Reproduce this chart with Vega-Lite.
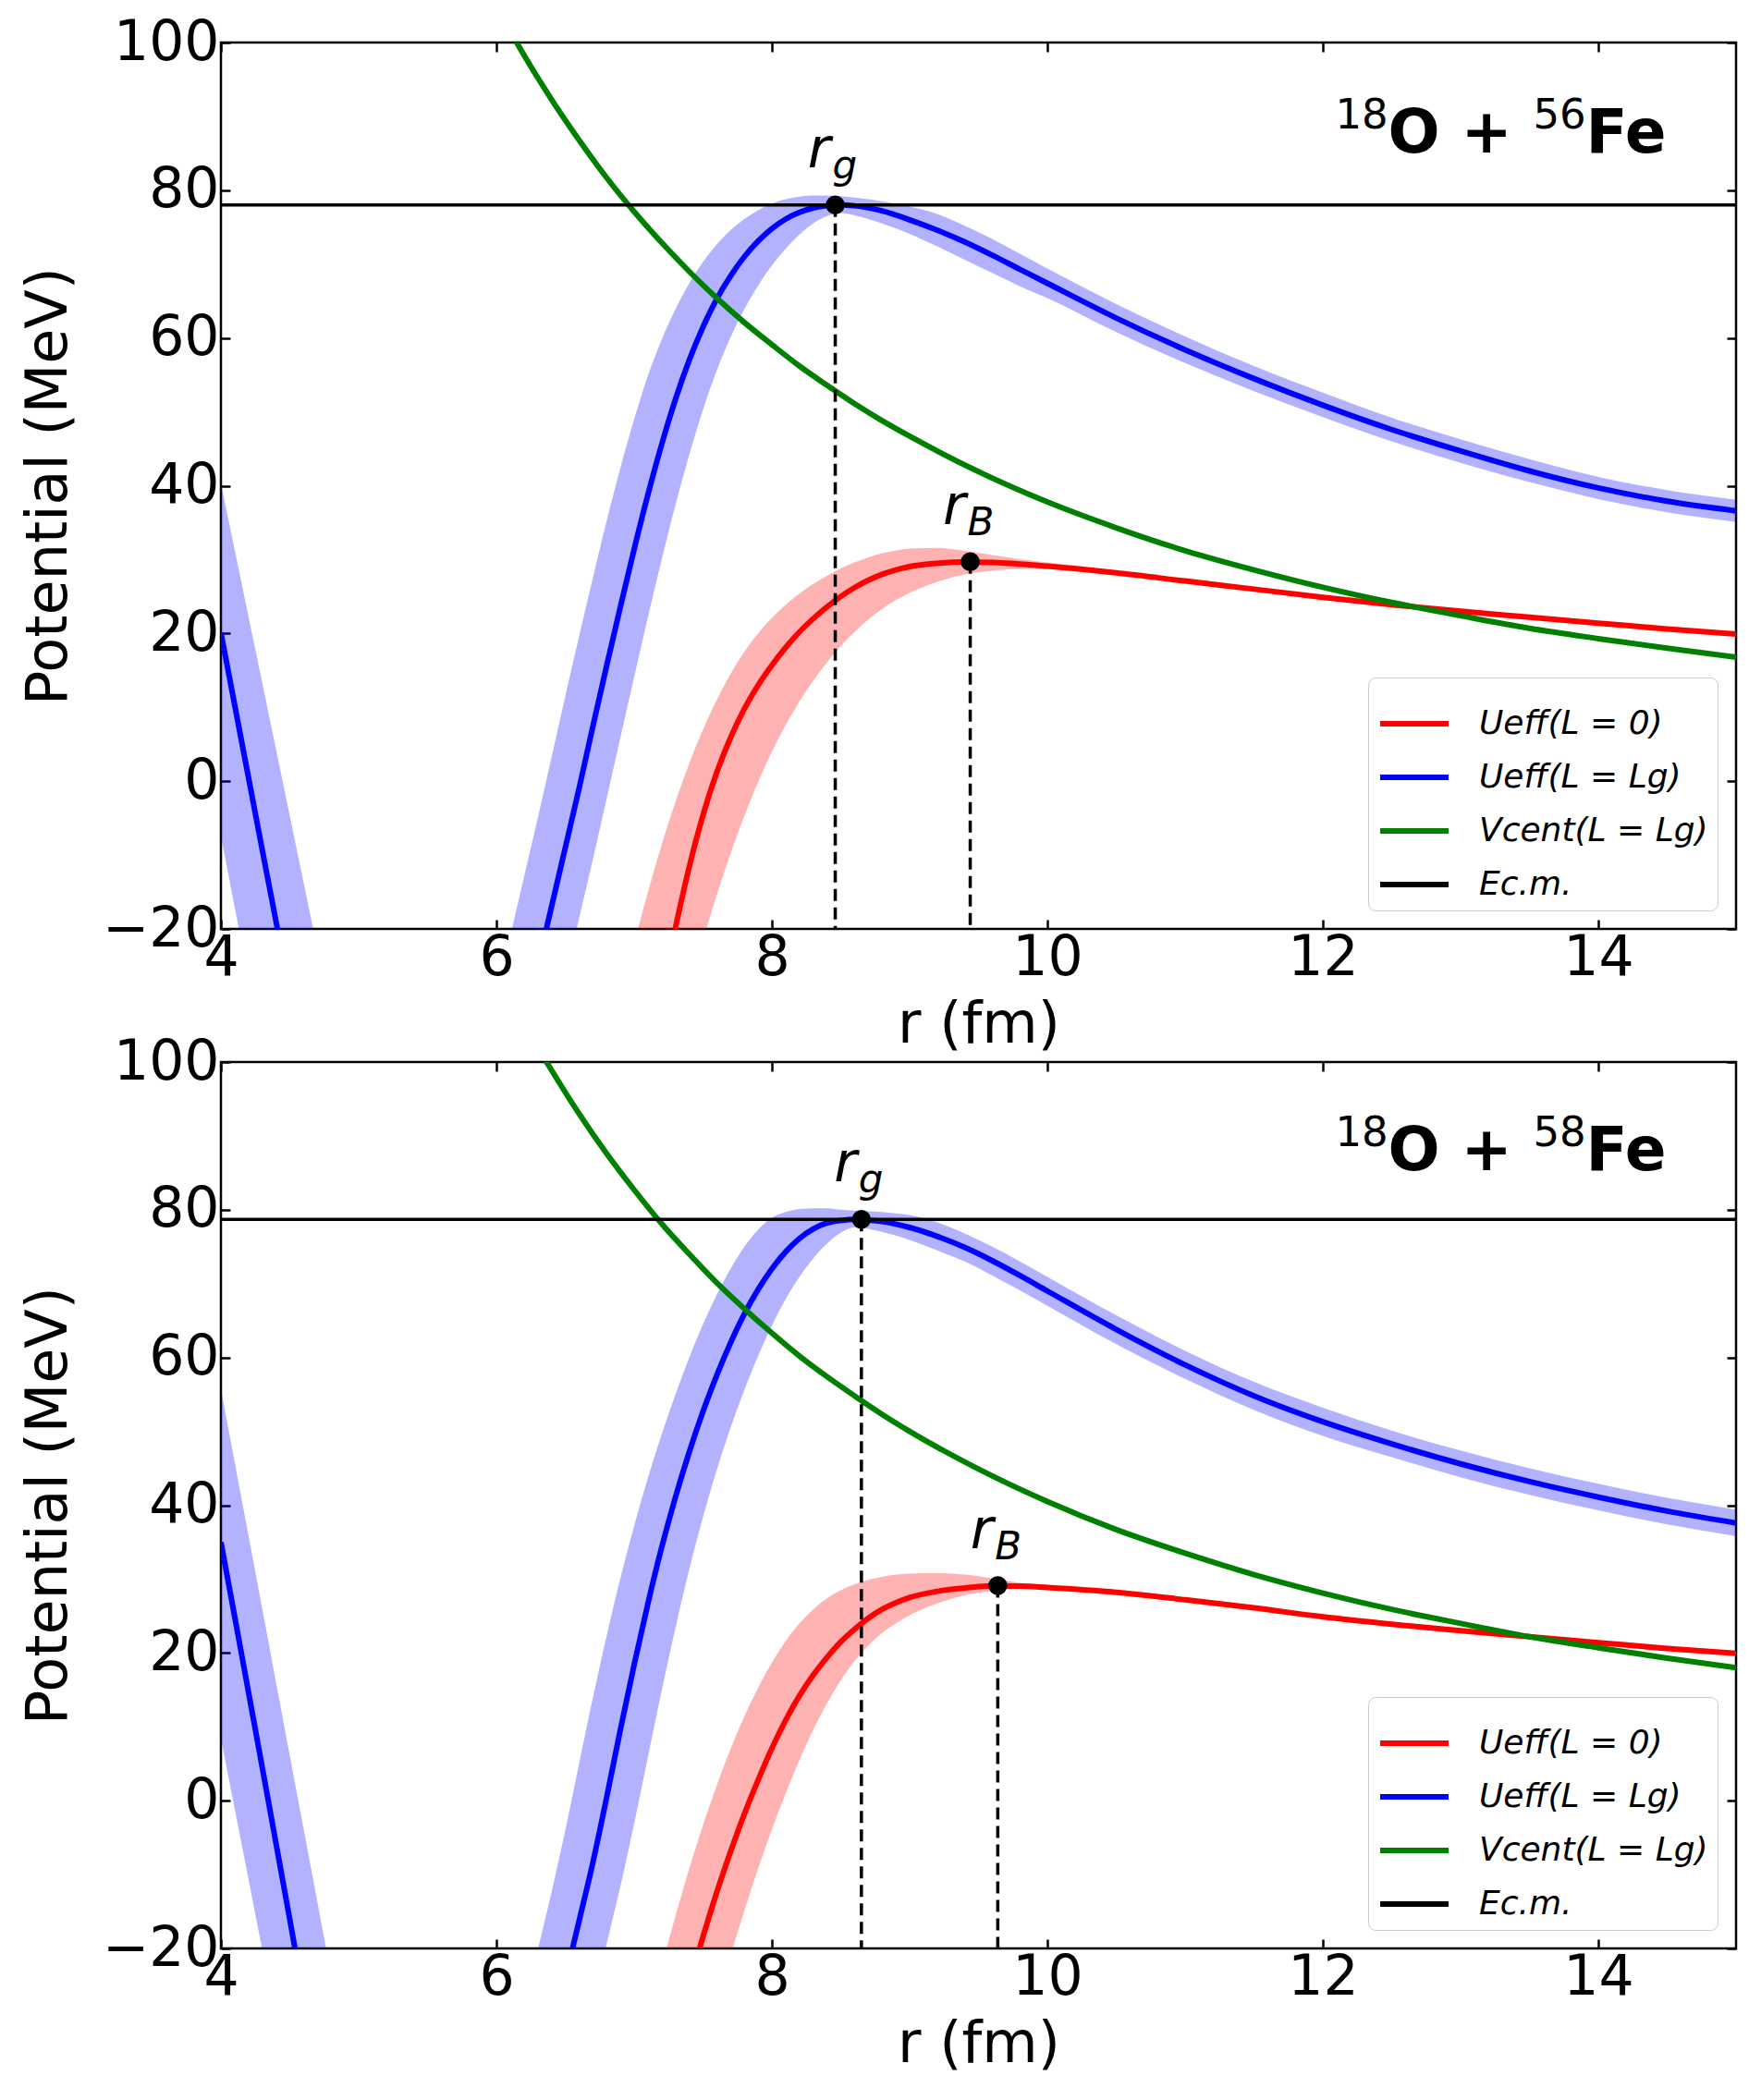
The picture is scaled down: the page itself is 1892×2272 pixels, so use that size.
{
  "$schema": "https://vega.github.io/schema/vega-lite/v6.json",
  "background": "white",
  "padding": {"left": 20, "top": 14, "right": 10, "bottom": 10},
  "datasets": {
    "top": [
      {"s": "U0", "b": 1, "r": 6.9, "v": -56.5, "lo": -64, "hi": -29.5},
      {"s": "U0", "b": 1, "r": 7.0, "v": -46.8, "lo": -56.5, "hi": -22.0},
      {"s": "U0", "b": 1, "r": 7.1, "v": -37.4, "lo": -49, "hi": -15.0},
      {"s": "U0", "b": 1, "r": 7.2, "v": -28.4, "lo": -41.8, "hi": -8.6},
      {"s": "U0", "b": 1, "r": 7.3, "v": -19.8, "lo": -34.8, "hi": -2.8},
      {"s": "U0", "b": 1, "r": 7.4, "v": -11.6, "lo": -28.0, "hi": 2.4},
      {"s": "U0", "b": 1, "r": 7.5, "v": -4.6, "lo": -21.5, "hi": 7.0},
      {"s": "U0", "b": 1, "r": 7.6, "v": 1.2, "lo": -15.4, "hi": 11.0},
      {"s": "U0", "b": 1, "r": 7.7, "v": 5.9, "lo": -9.8, "hi": 14.5},
      {"s": "U0", "b": 1, "r": 7.8, "v": 9.8, "lo": -4.7, "hi": 17.5},
      {"s": "U0", "b": 1, "r": 7.9, "v": 13.0, "lo": -0.1, "hi": 20.0},
      {"s": "U0", "b": 1, "r": 8.0, "v": 15.7, "lo": 4.0, "hi": 22.1},
      {"s": "U0", "b": 1, "r": 8.1, "v": 18.1, "lo": 7.6, "hi": 23.9},
      {"s": "U0", "b": 1, "r": 8.2, "v": 20.2, "lo": 10.8, "hi": 25.4},
      {"s": "U0", "b": 1, "r": 8.3, "v": 22.0, "lo": 13.6, "hi": 26.7},
      {"s": "U0", "b": 1, "r": 8.4, "v": 23.6, "lo": 16.1, "hi": 27.8},
      {"s": "U0", "b": 1, "r": 8.5, "v": 25.0, "lo": 18.3, "hi": 28.8},
      {"s": "U0", "b": 1, "r": 8.6, "v": 26.2, "lo": 20.2, "hi": 29.6},
      {"s": "U0", "b": 1, "r": 8.7, "v": 27.2, "lo": 21.9, "hi": 30.3},
      {"s": "U0", "b": 1, "r": 8.8, "v": 28.0, "lo": 23.3, "hi": 30.85},
      {"s": "U0", "b": 1, "r": 8.9, "v": 28.6, "lo": 24.5, "hi": 31.25},
      {"s": "U0", "b": 1, "r": 9.0, "v": 29.05, "lo": 25.5, "hi": 31.5},
      {"s": "U0", "b": 1, "r": 9.2, "v": 29.5, "lo": 27.0, "hi": 31.6},
      {"s": "U0", "b": 1, "r": 9.4, "v": 29.67, "lo": 28.0, "hi": 31.2},
      {"s": "U0", "b": 1, "r": 9.6, "v": 29.6, "lo": 28.5, "hi": 30.6},
      {"s": "U0", "b": 1, "r": 9.8, "v": 29.4, "lo": 28.75, "hi": 30.05},
      {"s": "U0", "b": 1, "r": 10.0, "v": 29.1, "lo": 28.7, "hi": 29.6},
      {"s": "U0", "b": 1, "r": 10.5, "v": 28.2, "lo": 28.0, "hi": 28.5},
      {"s": "U0", "b": 1, "r": 11.0, "v": 27.1, "lo": 27.0, "hi": 27.3},
      {"s": "U0", "b": 1, "r": 11.5, "v": 26.0, "lo": 25.95, "hi": 26.1},
      {"s": "U0", "b": 1, "r": 12.0, "v": 24.9},
      {"s": "U0", "b": 1, "r": 12.5, "v": 23.9},
      {"s": "U0", "b": 1, "r": 13.0, "v": 23.0},
      {"s": "U0", "b": 1, "r": 13.5, "v": 22.2},
      {"s": "U0", "b": 1, "r": 14.0, "v": 21.4},
      {"s": "U0", "b": 1, "r": 14.5, "v": 20.6},
      {"s": "U0", "b": 1, "r": 15.0, "v": 19.9},
      {"s": "UL", "b": 1, "r": 4.0, "v": 20.1, "lo": -7.4, "hi": 40.3},
      {"s": "UL", "b": 1, "r": 4.1, "v": 10.3, "lo": -17.1, "hi": 31.3},
      {"s": "UL", "b": 1, "r": 4.2, "v": 0.5, "lo": -26.8, "hi": 22.3},
      {"s": "UL", "b": 1, "r": 4.3, "v": -9.3, "lo": -36.5, "hi": 13.3},
      {"s": "UL", "b": 1, "r": 4.4, "v": -19.0, "lo": -46.2, "hi": 4.3},
      {"s": "UL", "b": 1, "r": 4.5, "v": -28.8, "lo": -56, "hi": -4.7},
      {"s": "UL", "b": 1, "r": 4.6, "v": -38.6, "lo": -66, "hi": -13.7},
      {"s": "UL", "b": 1, "r": 4.7, "v": -48.4, "lo": -76, "hi": -22.7},
      {"s": "UL", "b": 1, "r": 4.8, "v": -58, "lo": -86, "hi": -31.7},
      {"s": "UL", "b": 2, "r": 5.9, "v": -57, "lo": -75, "hi": -37},
      {"s": "UL", "b": 2, "r": 6.0, "v": -49, "lo": -67, "hi": -29},
      {"s": "UL", "b": 2, "r": 6.1, "v": -41, "lo": -59, "hi": -21},
      {"s": "UL", "b": 2, "r": 6.2, "v": -33, "lo": -51, "hi": -13},
      {"s": "UL", "b": 2, "r": 6.3, "v": -25, "lo": -42.6, "hi": -5},
      {"s": "UL", "b": 2, "r": 6.4, "v": -17, "lo": -34.6, "hi": 3.2},
      {"s": "UL", "b": 2, "r": 6.5, "v": -9, "lo": -26.6, "hi": 11.5},
      {"s": "UL", "b": 2, "r": 6.6, "v": -1, "lo": -18.6, "hi": 19.6},
      {"s": "UL", "b": 2, "r": 6.7, "v": 7.4, "lo": -10.6, "hi": 27.5},
      {"s": "UL", "b": 2, "r": 6.8, "v": 15.6, "lo": -2.4, "hi": 35.2},
      {"s": "UL", "b": 2, "r": 6.9, "v": 23.6, "lo": 5.9, "hi": 42.4},
      {"s": "UL", "b": 2, "r": 7.0, "v": 31.4, "lo": 14.1, "hi": 49.0},
      {"s": "UL", "b": 2, "r": 7.1, "v": 38.8, "lo": 22.2, "hi": 54.9},
      {"s": "UL", "b": 2, "r": 7.2, "v": 45.6, "lo": 30.0, "hi": 59.8},
      {"s": "UL", "b": 2, "r": 7.3, "v": 51.7, "lo": 37.4, "hi": 63.9},
      {"s": "UL", "b": 2, "r": 7.4, "v": 57.0, "lo": 44.2, "hi": 67.4},
      {"s": "UL", "b": 2, "r": 7.5, "v": 61.5, "lo": 50.3, "hi": 70.3},
      {"s": "UL", "b": 2, "r": 7.6, "v": 65.3, "lo": 55.6, "hi": 72.7},
      {"s": "UL", "b": 2, "r": 7.7, "v": 68.4, "lo": 60.1, "hi": 74.6},
      {"s": "UL", "b": 2, "r": 7.8, "v": 71.0, "lo": 63.9, "hi": 76.1},
      {"s": "UL", "b": 2, "r": 7.9, "v": 73.1, "lo": 67.1, "hi": 77.3},
      {"s": "UL", "b": 2, "r": 8.0, "v": 74.8, "lo": 69.8, "hi": 78.2},
      {"s": "UL", "b": 2, "r": 8.1, "v": 76.1, "lo": 72.1, "hi": 78.8},
      {"s": "UL", "b": 2, "r": 8.2, "v": 77.0, "lo": 74.0, "hi": 79.15},
      {"s": "UL", "b": 2, "r": 8.3, "v": 77.6, "lo": 75.5, "hi": 79.3},
      {"s": "UL", "b": 2, "r": 8.4, "v": 77.9, "lo": 76.5, "hi": 79.3},
      {"s": "UL", "b": 2, "r": 8.5, "v": 78.0, "lo": 76.9, "hi": 79.2},
      {"s": "UL", "b": 2, "r": 8.6, "v": 77.9, "lo": 76.6, "hi": 79.0},
      {"s": "UL", "b": 2, "r": 8.8, "v": 77.2, "lo": 75.5, "hi": 78.5},
      {"s": "UL", "b": 2, "r": 9.0, "v": 76.0, "lo": 74.1, "hi": 77.8},
      {"s": "UL", "b": 2, "r": 9.2, "v": 74.6, "lo": 72.4, "hi": 76.8},
      {"s": "UL", "b": 2, "r": 9.4, "v": 73.0, "lo": 70.6, "hi": 75.2},
      {"s": "UL", "b": 2, "r": 9.6, "v": 71.2, "lo": 68.8, "hi": 73.4},
      {"s": "UL", "b": 2, "r": 9.8, "v": 69.3, "lo": 67.0, "hi": 71.4},
      {"s": "UL", "b": 2, "r": 10.0, "v": 67.4, "lo": 65.4, "hi": 69.4},
      {"s": "UL", "b": 2, "r": 10.5, "v": 62.7, "lo": 60.8, "hi": 64.6},
      {"s": "UL", "b": 2, "r": 11.0, "v": 58.4, "lo": 56.6, "hi": 60.2},
      {"s": "UL", "b": 2, "r": 11.5, "v": 54.5, "lo": 52.8, "hi": 56.2},
      {"s": "UL", "b": 2, "r": 12.0, "v": 50.9, "lo": 49.3, "hi": 52.6},
      {"s": "UL", "b": 2, "r": 12.5, "v": 47.6, "lo": 46.0, "hi": 49.2},
      {"s": "UL", "b": 2, "r": 13.0, "v": 44.7, "lo": 43.1, "hi": 46.3},
      {"s": "UL", "b": 2, "r": 13.5, "v": 42.0, "lo": 40.5, "hi": 43.6},
      {"s": "UL", "b": 2, "r": 14.0, "v": 39.7, "lo": 38.2, "hi": 41.2},
      {"s": "UL", "b": 2, "r": 14.5, "v": 37.9, "lo": 36.4, "hi": 39.4},
      {"s": "UL", "b": 2, "r": 15.0, "v": 36.6, "lo": 35.1, "hi": 38.1},
      {"s": "V", "b": 1, "r": 5.9, "v": 108.6},
      {"s": "V", "b": 1, "r": 6.0, "v": 105.0},
      {"s": "V", "b": 1, "r": 6.2, "v": 98.3},
      {"s": "V", "b": 1, "r": 6.4, "v": 92.3},
      {"s": "V", "b": 1, "r": 6.6, "v": 86.8},
      {"s": "V", "b": 1, "r": 6.8, "v": 81.7},
      {"s": "V", "b": 1, "r": 7.0, "v": 77.1},
      {"s": "V", "b": 1, "r": 7.2, "v": 72.9},
      {"s": "V", "b": 1, "r": 7.4, "v": 69.0},
      {"s": "V", "b": 1, "r": 7.6, "v": 65.4},
      {"s": "V", "b": 1, "r": 7.8, "v": 62.1},
      {"s": "V", "b": 1, "r": 8.0, "v": 59.1},
      {"s": "V", "b": 1, "r": 8.2, "v": 56.2},
      {"s": "V", "b": 1, "r": 8.4, "v": 53.6},
      {"s": "V", "b": 1, "r": 8.6, "v": 51.1},
      {"s": "V", "b": 1, "r": 8.8, "v": 48.8},
      {"s": "V", "b": 1, "r": 9.0, "v": 46.7},
      {"s": "V", "b": 1, "r": 9.5, "v": 41.9},
      {"s": "V", "b": 1, "r": 10.0, "v": 37.8},
      {"s": "V", "b": 1, "r": 10.5, "v": 34.3},
      {"s": "V", "b": 1, "r": 11.0, "v": 31.2},
      {"s": "V", "b": 1, "r": 11.5, "v": 28.6},
      {"s": "V", "b": 1, "r": 12.0, "v": 26.25},
      {"s": "V", "b": 1, "r": 12.5, "v": 24.2},
      {"s": "V", "b": 1, "r": 13.0, "v": 22.4},
      {"s": "V", "b": 1, "r": 13.5, "v": 20.7},
      {"s": "V", "b": 1, "r": 14.0, "v": 19.3},
      {"s": "V", "b": 1, "r": 14.5, "v": 18.0},
      {"s": "V", "b": 1, "r": 15.0, "v": 16.8},
      {"s": "E", "v": 78.0},
      {"s": "P", "r": 8.46, "v": 78.0, "sub": "g"},
      {"s": "P", "r": 9.44, "v": 29.7, "sub": "B"},
      {"s": "T", "r": 12.09, "v": 85.1, "a": "18", "z": "56"}
    ],
    "bot": [
      {"s": "U0", "b": 1, "r": 7.1, "v": -46.0, "lo": -59.5, "hi": -29.5},
      {"s": "U0", "b": 1, "r": 7.2, "v": -38.6, "lo": -53, "hi": -22.4},
      {"s": "U0", "b": 1, "r": 7.3, "v": -31.5, "lo": -46.5, "hi": -15.6},
      {"s": "U0", "b": 1, "r": 7.4, "v": -24.8, "lo": -40, "hi": -9.2},
      {"s": "U0", "b": 1, "r": 7.5, "v": -18.4, "lo": -33.5, "hi": -3.3},
      {"s": "U0", "b": 1, "r": 7.6, "v": -12.4, "lo": -27.1, "hi": 2.1},
      {"s": "U0", "b": 1, "r": 7.7, "v": -6.9, "lo": -20.9, "hi": 7.0},
      {"s": "U0", "b": 1, "r": 7.8, "v": -1.8, "lo": -14.9, "hi": 11.4},
      {"s": "U0", "b": 1, "r": 7.9, "v": 2.8, "lo": -9.2, "hi": 15.3},
      {"s": "U0", "b": 1, "r": 8.0, "v": 7.1, "lo": -3.9, "hi": 18.7},
      {"s": "U0", "b": 1, "r": 8.1, "v": 10.9, "lo": 1.0, "hi": 21.6},
      {"s": "U0", "b": 1, "r": 8.2, "v": 14.2, "lo": 5.5, "hi": 24.0},
      {"s": "U0", "b": 1, "r": 8.3, "v": 17.0, "lo": 9.6, "hi": 25.9},
      {"s": "U0", "b": 1, "r": 8.4, "v": 19.4, "lo": 13.2, "hi": 27.4},
      {"s": "U0", "b": 1, "r": 8.5, "v": 21.5, "lo": 16.3, "hi": 28.5},
      {"s": "U0", "b": 1, "r": 8.6, "v": 23.2, "lo": 18.9, "hi": 29.3},
      {"s": "U0", "b": 1, "r": 8.7, "v": 24.7, "lo": 21.0, "hi": 29.9},
      {"s": "U0", "b": 1, "r": 8.8, "v": 25.9, "lo": 22.7, "hi": 30.3},
      {"s": "U0", "b": 1, "r": 8.9, "v": 26.8, "lo": 24.0, "hi": 30.6},
      {"s": "U0", "b": 1, "r": 9.0, "v": 27.5, "lo": 25.1, "hi": 30.75},
      {"s": "U0", "b": 1, "r": 9.2, "v": 28.35, "lo": 26.7, "hi": 30.8},
      {"s": "U0", "b": 1, "r": 9.4, "v": 28.8, "lo": 27.8, "hi": 30.6},
      {"s": "U0", "b": 1, "r": 9.6, "v": 29.07, "lo": 28.4, "hi": 30.1},
      {"s": "U0", "b": 1, "r": 9.8, "v": 29.05, "lo": 28.7, "hi": 29.5},
      {"s": "U0", "b": 1, "r": 10.0, "v": 28.85, "lo": 28.6, "hi": 29.2},
      {"s": "U0", "b": 1, "r": 10.5, "v": 28.2, "lo": 28.05, "hi": 28.4},
      {"s": "U0", "b": 1, "r": 11.0, "v": 27.2, "lo": 27.1, "hi": 27.3},
      {"s": "U0", "b": 1, "r": 11.5, "v": 26.1},
      {"s": "U0", "b": 1, "r": 12.0, "v": 24.9},
      {"s": "U0", "b": 1, "r": 12.5, "v": 23.9},
      {"s": "U0", "b": 1, "r": 13.0, "v": 23.0},
      {"s": "U0", "b": 1, "r": 13.5, "v": 22.2},
      {"s": "U0", "b": 1, "r": 14.0, "v": 21.4},
      {"s": "U0", "b": 1, "r": 14.5, "v": 20.6},
      {"s": "U0", "b": 1, "r": 15.0, "v": 19.95},
      {"s": "UL", "b": 1, "r": 4.0, "v": 35.0, "lo": 8.45, "hi": 55.7},
      {"s": "UL", "b": 1, "r": 4.1, "v": 24.9, "lo": -1.1, "hi": 45.8},
      {"s": "UL", "b": 1, "r": 4.2, "v": 14.7, "lo": -10.6, "hi": 35.9},
      {"s": "UL", "b": 1, "r": 4.3, "v": 4.5, "lo": -20.2, "hi": 26.0},
      {"s": "UL", "b": 1, "r": 4.4, "v": -5.8, "lo": -29.8, "hi": 16.0},
      {"s": "UL", "b": 1, "r": 4.5, "v": -16.1, "lo": -39.4, "hi": 6.1},
      {"s": "UL", "b": 1, "r": 4.6, "v": -26.5, "lo": -49, "hi": -3.8},
      {"s": "UL", "b": 1, "r": 4.7, "v": -37, "lo": -58.6, "hi": -13.7},
      {"s": "UL", "b": 1, "r": 4.8, "v": -47.5, "lo": -68, "hi": -23.6},
      {"s": "UL", "b": 2, "r": 6.0, "v": -63.1, "lo": -82, "hi": -43.6},
      {"s": "UL", "b": 2, "r": 6.1, "v": -55.3, "lo": -74, "hi": -35.8},
      {"s": "UL", "b": 2, "r": 6.2, "v": -47.5, "lo": -66, "hi": -28.0},
      {"s": "UL", "b": 2, "r": 6.3, "v": -39.7, "lo": -58, "hi": -20.2},
      {"s": "UL", "b": 2, "r": 6.4, "v": -31.9, "lo": -50, "hi": -12.4},
      {"s": "UL", "b": 2, "r": 6.5, "v": -24.1, "lo": -42, "hi": -4.0},
      {"s": "UL", "b": 2, "r": 6.6, "v": -16.3, "lo": -34, "hi": 5.0},
      {"s": "UL", "b": 2, "r": 6.7, "v": -8.4, "lo": -27, "hi": 13.9},
      {"s": "UL", "b": 2, "r": 6.8, "v": 0.4, "lo": -19.4, "hi": 22.3},
      {"s": "UL", "b": 2, "r": 6.9, "v": 9.6, "lo": -11.6, "hi": 30.1},
      {"s": "UL", "b": 2, "r": 7.0, "v": 18.4, "lo": -3.1, "hi": 37.2},
      {"s": "UL", "b": 2, "r": 7.1, "v": 26.7, "lo": 5.9, "hi": 43.7},
      {"s": "UL", "b": 2, "r": 7.2, "v": 34.3, "lo": 14.9, "hi": 49.6},
      {"s": "UL", "b": 2, "r": 7.3, "v": 41.1, "lo": 23.4, "hi": 55.0},
      {"s": "UL", "b": 2, "r": 7.4, "v": 47.2, "lo": 31.3, "hi": 60.0},
      {"s": "UL", "b": 2, "r": 7.5, "v": 52.7, "lo": 38.4, "hi": 64.5},
      {"s": "UL", "b": 2, "r": 7.6, "v": 57.6, "lo": 44.8, "hi": 68.5},
      {"s": "UL", "b": 2, "r": 7.7, "v": 62.0, "lo": 50.5, "hi": 72.0},
      {"s": "UL", "b": 2, "r": 7.8, "v": 65.9, "lo": 55.6, "hi": 75.0},
      {"s": "UL", "b": 2, "r": 7.9, "v": 69.2, "lo": 60.2, "hi": 77.3},
      {"s": "UL", "b": 2, "r": 8.0, "v": 72.0, "lo": 64.3, "hi": 78.9},
      {"s": "UL", "b": 2, "r": 8.1, "v": 74.3, "lo": 67.9, "hi": 79.7},
      {"s": "UL", "b": 2, "r": 8.2, "v": 76.1, "lo": 70.9, "hi": 80.1},
      {"s": "UL", "b": 2, "r": 8.3, "v": 77.4, "lo": 73.4, "hi": 80.2},
      {"s": "UL", "b": 2, "r": 8.4, "v": 78.2, "lo": 75.4, "hi": 80.2},
      {"s": "UL", "b": 2, "r": 8.5, "v": 78.55, "lo": 76.9, "hi": 80.0},
      {"s": "UL", "b": 2, "r": 8.6, "v": 78.7, "lo": 77.6, "hi": 79.9},
      {"s": "UL", "b": 2, "r": 8.7, "v": 78.6, "lo": 77.4, "hi": 79.8},
      {"s": "UL", "b": 2, "r": 8.8, "v": 78.4, "lo": 77.0, "hi": 79.7},
      {"s": "UL", "b": 2, "r": 8.9, "v": 78.05, "lo": 76.5, "hi": 79.5},
      {"s": "UL", "b": 2, "r": 9.0, "v": 77.6, "lo": 75.9, "hi": 79.3},
      {"s": "UL", "b": 2, "r": 9.2, "v": 76.4, "lo": 74.5, "hi": 78.3},
      {"s": "UL", "b": 2, "r": 9.4, "v": 74.9, "lo": 73.0, "hi": 76.8},
      {"s": "UL", "b": 2, "r": 9.6, "v": 73.1, "lo": 71.1, "hi": 75.0},
      {"s": "UL", "b": 2, "r": 9.8, "v": 71.1, "lo": 69.1, "hi": 73.0},
      {"s": "UL", "b": 2, "r": 10.0, "v": 69.0, "lo": 67.0, "hi": 70.9},
      {"s": "UL", "b": 2, "r": 10.5, "v": 63.8, "lo": 61.8, "hi": 65.7},
      {"s": "UL", "b": 2, "r": 11.0, "v": 59.0, "lo": 57.1, "hi": 60.9},
      {"s": "UL", "b": 2, "r": 11.5, "v": 54.8, "lo": 52.9, "hi": 56.7},
      {"s": "UL", "b": 2, "r": 12.0, "v": 51.3, "lo": 49.4, "hi": 53.2},
      {"s": "UL", "b": 2, "r": 12.5, "v": 48.3, "lo": 46.5, "hi": 50.1},
      {"s": "UL", "b": 2, "r": 13.0, "v": 45.6, "lo": 43.8, "hi": 47.4},
      {"s": "UL", "b": 2, "r": 13.5, "v": 43.2, "lo": 41.4, "hi": 45.0},
      {"s": "UL", "b": 2, "r": 14.0, "v": 41.1, "lo": 39.3, "hi": 42.9},
      {"s": "UL", "b": 2, "r": 14.5, "v": 39.2, "lo": 37.4, "hi": 41.0},
      {"s": "UL", "b": 2, "r": 15.0, "v": 37.6, "lo": 35.8, "hi": 39.4},
      {"s": "V", "b": 1, "r": 6.2, "v": 105.4},
      {"s": "V", "b": 1, "r": 6.3, "v": 102.0},
      {"s": "V", "b": 1, "r": 6.4, "v": 98.9},
      {"s": "V", "b": 1, "r": 6.6, "v": 93.0},
      {"s": "V", "b": 1, "r": 6.8, "v": 87.6},
      {"s": "V", "b": 1, "r": 7.0, "v": 82.7},
      {"s": "V", "b": 1, "r": 7.2, "v": 78.1},
      {"s": "V", "b": 1, "r": 7.4, "v": 74.0},
      {"s": "V", "b": 1, "r": 7.6, "v": 70.1},
      {"s": "V", "b": 1, "r": 7.8, "v": 66.6},
      {"s": "V", "b": 1, "r": 8.0, "v": 63.3},
      {"s": "V", "b": 1, "r": 8.2, "v": 60.2},
      {"s": "V", "b": 1, "r": 8.4, "v": 57.4},
      {"s": "V", "b": 1, "r": 8.6, "v": 54.8},
      {"s": "V", "b": 1, "r": 8.8, "v": 52.3},
      {"s": "V", "b": 1, "r": 9.0, "v": 50.0},
      {"s": "V", "b": 1, "r": 9.5, "v": 44.9},
      {"s": "V", "b": 1, "r": 10.0, "v": 40.5},
      {"s": "V", "b": 1, "r": 10.5, "v": 36.7},
      {"s": "V", "b": 1, "r": 11.0, "v": 33.5},
      {"s": "V", "b": 1, "r": 11.5, "v": 30.6},
      {"s": "V", "b": 1, "r": 12.0, "v": 28.1},
      {"s": "V", "b": 1, "r": 12.5, "v": 25.9},
      {"s": "V", "b": 1, "r": 13.0, "v": 24.0},
      {"s": "V", "b": 1, "r": 13.5, "v": 22.2},
      {"s": "V", "b": 1, "r": 14.0, "v": 20.7},
      {"s": "V", "b": 1, "r": 14.5, "v": 19.3},
      {"s": "V", "b": 1, "r": 15.0, "v": 18.0},
      {"s": "E", "v": 78.7},
      {"s": "P", "r": 8.65, "v": 78.7, "sub": "g"},
      {"s": "P", "r": 9.64, "v": 29.1, "sub": "B"},
      {"s": "T", "r": 12.09, "v": 85.4, "a": "18", "z": "58"}
    ]
  },
  "spacing": 144,
  "bounds": "flush",
  "resolve": {
    "scale": {"x": "independent", "y": "independent", "color": "independent"},
    "legend": {"color": "independent"}
  },
  "vconcat": [
    {
      "width": 1639,
      "height": 959,
      "data": {"name": "top"},
      "resolve": {"axis": {"x": "independent", "y": "independent"}},
      "layer": [
        {
          "transform": [{"filter": "isValid(datum.lo)"}],
          "mark": {"type": "area", "clip": true, "opacity": 0.3, "interpolate": "monotone"},
          "encoding": {
            "x": {"field": "r", "type": "quantitative", "scale": {"domain": [4, 15], "nice": false, "zero": false}, "axis": null},
            "y": {"field": "lo", "type": "quantitative", "scale": {"domain": [-20, 100], "nice": false, "zero": false}, "axis": null},
            "y2": {"field": "hi"},
            "color": {"field": "s", "type": "nominal", "scale": {"domain": ["U0", "UL", "V", "E"], "range": ["#ff0000", "#0000ff", "#008000", "#000000"]}},
            "detail": {"field": "b"}
          }
        },
        {
          "transform": [{"filter": "datum.s == 'U0' || datum.s == 'UL' || datum.s == 'V'"}],
          "mark": {"type": "line", "clip": true, "strokeWidth": 6, "interpolate": "monotone"},
          "encoding": {
            "x": {"field": "r", "type": "quantitative", "axis": {"values": [4, 6, 8, 10, 12, 14], "title": "r (fm)"}},
            "y": {"field": "v", "type": "quantitative", "axis": {"values": [-20, 0, 20, 40, 60, 80, 100], "title": "Potential (MeV)"}},
            "color": {"field": "s", "type": "nominal", "legend": {"labelExpr": "datum.value == 'U0' ? 'Ueff(L = 0)' : datum.value == 'UL' ? 'Ueff(L = Lg)' : datum.value == 'V' ? 'Vcent(L = Lg)' : 'Ec.m.'"}},
            "detail": {"field": "b"}
          }
        },
        {
          "transform": [{"filter": "datum.s == 'E'"}],
          "mark": {"type": "rule", "strokeWidth": 3.5},
          "encoding": {
            "y": {"field": "v", "type": "quantitative", "axis": null},
            "color": {"field": "s", "type": "nominal"}
          }
        },
        {
          "transform": [{"filter": "datum.s == 'P'"}],
          "mark": {"type": "rule", "color": "black", "strokeWidth": 3.5, "strokeDash": [13, 7]},
          "encoding": {
            "x": {"field": "r", "type": "quantitative", "axis": {"orient": "top", "labels": false, "title": null, "values": [4, 6, 8, 10, 12, 14]}},
            "y": {"field": "v", "type": "quantitative", "axis": {"orient": "right", "labels": false, "title": null, "values": [-20, 0, 20, 40, 60, 80, 100]}},
            "y2": {"datum": -20}
          }
        },
        {
          "transform": [{"filter": "datum.s == 'P'"}],
          "mark": {"type": "point", "filled": true, "opacity": 1, "color": "black", "size": 420},
          "encoding": {
            "x": {"field": "r", "type": "quantitative", "axis": null},
            "y": {"field": "v", "type": "quantitative", "axis": null}
          }
        },
        {
          "transform": [{"filter": "datum.s == 'P'"}],
          "mark": {"type": "text", "text": "r", "font": "DejaVu Sans", "fontStyle": "italic", "fontSize": 60, "align": "right", "baseline": "alphabetic", "dx": -5, "dy": -41},
          "encoding": {
            "x": {"field": "r", "type": "quantitative", "axis": null},
            "y": {"field": "v", "type": "quantitative", "axis": null}
          }
        },
        {
          "transform": [{"filter": "datum.s == 'P'"}],
          "mark": {"type": "text", "font": "DejaVu Sans", "fontStyle": "italic", "fontSize": 42, "align": "left", "baseline": "alphabetic", "dx": -3, "dy": -29},
          "encoding": {
            "x": {"field": "r", "type": "quantitative", "axis": null},
            "y": {"field": "v", "type": "quantitative", "axis": null},
            "text": {"field": "sub"}
          }
        },
        {
          "transform": [{"filter": "datum.s == 'T'"}],
          "mark": {"type": "text", "font": "DejaVu Sans", "fontSize": 45, "align": "left", "baseline": "alphabetic", "dy": -26},
          "encoding": {
            "x": {"field": "r", "type": "quantitative", "axis": null},
            "y": {"field": "v", "type": "quantitative", "axis": null},
            "text": {"field": "a"}
          }
        },
        {
          "transform": [{"filter": "datum.s == 'T'"}],
          "mark": {"type": "text", "text": "O +", "font": "DejaVu Sans", "fontWeight": "bold", "fontSize": 66, "align": "left", "baseline": "alphabetic", "dx": 57},
          "encoding": {
            "x": {"field": "r", "type": "quantitative", "axis": null},
            "y": {"field": "v", "type": "quantitative", "axis": null}
          }
        },
        {
          "transform": [{"filter": "datum.s == 'T'"}],
          "mark": {"type": "text", "font": "DejaVu Sans", "fontSize": 45, "align": "left", "baseline": "alphabetic", "dx": 214, "dy": -26},
          "encoding": {
            "x": {"field": "r", "type": "quantitative", "axis": null},
            "y": {"field": "v", "type": "quantitative", "axis": null},
            "text": {"field": "z"}
          }
        },
        {
          "transform": [{"filter": "datum.s == 'T'"}],
          "mark": {"type": "text", "text": "Fe", "font": "DejaVu Sans", "fontWeight": "bold", "fontSize": 66, "align": "left", "baseline": "alphabetic", "dx": 271},
          "encoding": {
            "x": {"field": "r", "type": "quantitative", "axis": null},
            "y": {"field": "v", "type": "quantitative", "axis": null}
          }
        }
      ]
    },
    {
      "width": 1639,
      "height": 959,
      "data": {"name": "bot"},
      "resolve": {"axis": {"x": "independent", "y": "independent"}},
      "layer": [
        {
          "transform": [{"filter": "isValid(datum.lo)"}],
          "mark": {"type": "area", "clip": true, "opacity": 0.3, "interpolate": "monotone"},
          "encoding": {
            "x": {"field": "r", "type": "quantitative", "scale": {"domain": [4, 15], "nice": false, "zero": false}, "axis": null},
            "y": {"field": "lo", "type": "quantitative", "scale": {"domain": [-20, 100], "nice": false, "zero": false}, "axis": null},
            "y2": {"field": "hi"},
            "color": {"field": "s", "type": "nominal", "scale": {"domain": ["U0", "UL", "V", "E"], "range": ["#ff0000", "#0000ff", "#008000", "#000000"]}},
            "detail": {"field": "b"}
          }
        },
        {
          "transform": [{"filter": "datum.s == 'U0' || datum.s == 'UL' || datum.s == 'V'"}],
          "mark": {"type": "line", "clip": true, "strokeWidth": 6, "interpolate": "monotone"},
          "encoding": {
            "x": {"field": "r", "type": "quantitative", "axis": {"values": [4, 6, 8, 10, 12, 14], "title": "r (fm)"}},
            "y": {"field": "v", "type": "quantitative", "axis": {"values": [-20, 0, 20, 40, 60, 80, 100], "title": "Potential (MeV)"}},
            "color": {"field": "s", "type": "nominal", "legend": {"labelExpr": "datum.value == 'U0' ? 'Ueff(L = 0)' : datum.value == 'UL' ? 'Ueff(L = Lg)' : datum.value == 'V' ? 'Vcent(L = Lg)' : 'Ec.m.'"}},
            "detail": {"field": "b"}
          }
        },
        {
          "transform": [{"filter": "datum.s == 'E'"}],
          "mark": {"type": "rule", "strokeWidth": 3.5},
          "encoding": {
            "y": {"field": "v", "type": "quantitative", "axis": null},
            "color": {"field": "s", "type": "nominal"}
          }
        },
        {
          "transform": [{"filter": "datum.s == 'P'"}],
          "mark": {"type": "rule", "color": "black", "strokeWidth": 3.5, "strokeDash": [13, 7]},
          "encoding": {
            "x": {"field": "r", "type": "quantitative", "axis": {"orient": "top", "labels": false, "title": null, "values": [4, 6, 8, 10, 12, 14]}},
            "y": {"field": "v", "type": "quantitative", "axis": {"orient": "right", "labels": false, "title": null, "values": [-20, 0, 20, 40, 60, 80, 100]}},
            "y2": {"datum": -20}
          }
        },
        {
          "transform": [{"filter": "datum.s == 'P'"}],
          "mark": {"type": "point", "filled": true, "opacity": 1, "color": "black", "size": 420},
          "encoding": {
            "x": {"field": "r", "type": "quantitative", "axis": null},
            "y": {"field": "v", "type": "quantitative", "axis": null}
          }
        },
        {
          "transform": [{"filter": "datum.s == 'P'"}],
          "mark": {"type": "text", "text": "r", "font": "DejaVu Sans", "fontStyle": "italic", "fontSize": 60, "align": "right", "baseline": "alphabetic", "dx": -5, "dy": -41},
          "encoding": {
            "x": {"field": "r", "type": "quantitative", "axis": null},
            "y": {"field": "v", "type": "quantitative", "axis": null}
          }
        },
        {
          "transform": [{"filter": "datum.s == 'P'"}],
          "mark": {"type": "text", "font": "DejaVu Sans", "fontStyle": "italic", "fontSize": 42, "align": "left", "baseline": "alphabetic", "dx": -3, "dy": -29},
          "encoding": {
            "x": {"field": "r", "type": "quantitative", "axis": null},
            "y": {"field": "v", "type": "quantitative", "axis": null},
            "text": {"field": "sub"}
          }
        },
        {
          "transform": [{"filter": "datum.s == 'T'"}],
          "mark": {"type": "text", "font": "DejaVu Sans", "fontSize": 45, "align": "left", "baseline": "alphabetic", "dy": -26},
          "encoding": {
            "x": {"field": "r", "type": "quantitative", "axis": null},
            "y": {"field": "v", "type": "quantitative", "axis": null},
            "text": {"field": "a"}
          }
        },
        {
          "transform": [{"filter": "datum.s == 'T'"}],
          "mark": {"type": "text", "text": "O +", "font": "DejaVu Sans", "fontWeight": "bold", "fontSize": 66, "align": "left", "baseline": "alphabetic", "dx": 57},
          "encoding": {
            "x": {"field": "r", "type": "quantitative", "axis": null},
            "y": {"field": "v", "type": "quantitative", "axis": null}
          }
        },
        {
          "transform": [{"filter": "datum.s == 'T'"}],
          "mark": {"type": "text", "font": "DejaVu Sans", "fontSize": 45, "align": "left", "baseline": "alphabetic", "dx": 214, "dy": -26},
          "encoding": {
            "x": {"field": "r", "type": "quantitative", "axis": null},
            "y": {"field": "v", "type": "quantitative", "axis": null},
            "text": {"field": "z"}
          }
        },
        {
          "transform": [{"filter": "datum.s == 'T'"}],
          "mark": {"type": "text", "text": "Fe", "font": "DejaVu Sans", "fontWeight": "bold", "fontSize": 66, "align": "left", "baseline": "alphabetic", "dx": 271},
          "encoding": {
            "x": {"field": "r", "type": "quantitative", "axis": null},
            "y": {"field": "v", "type": "quantitative", "axis": null}
          }
        }
      ]
    }
  ],
  "config": {
    "font": "DejaVu Sans",
    "view": {"stroke": "black", "strokeWidth": 2.5},
    "axis": {
      "grid": false,
      "domain": false,
      "labelFont": "DejaVu Sans",
      "labelFontSize": 60,
      "labelColor": "black",
      "labelFlush": false,
      "labelOverlap": false,
      "titleFont": "DejaVu Sans",
      "titleFontSize": 62,
      "titleFontWeight": "normal",
      "titleColor": "black",
      "tickColor": "black",
      "tickWidth": 2.5,
      "tickSize": -10,
      "labelPadding": 12
    },
    "axisX": {"titlePadding": 12},
    "axisY": {"titlePadding": 26},
    "legend": {
      "orient": "bottom-right",
      "offset": 20,
      "title": null,
      "labelFont": "DejaVu Sans",
      "labelFontSize": 36,
      "labelFontStyle": "italic",
      "labelColor": "black",
      "labelLimit": 500,
      "symbolType": "stroke",
      "symbolSize": 5476,
      "symbolStrokeWidth": 6,
      "symbolOpacity": 1,
      "labelOffset": 30,
      "rowPadding": -12,
      "padding": 10,
      "fillColor": "white",
      "strokeColor": "#cccccc",
      "cornerRadius": 8
    }
  }
}
